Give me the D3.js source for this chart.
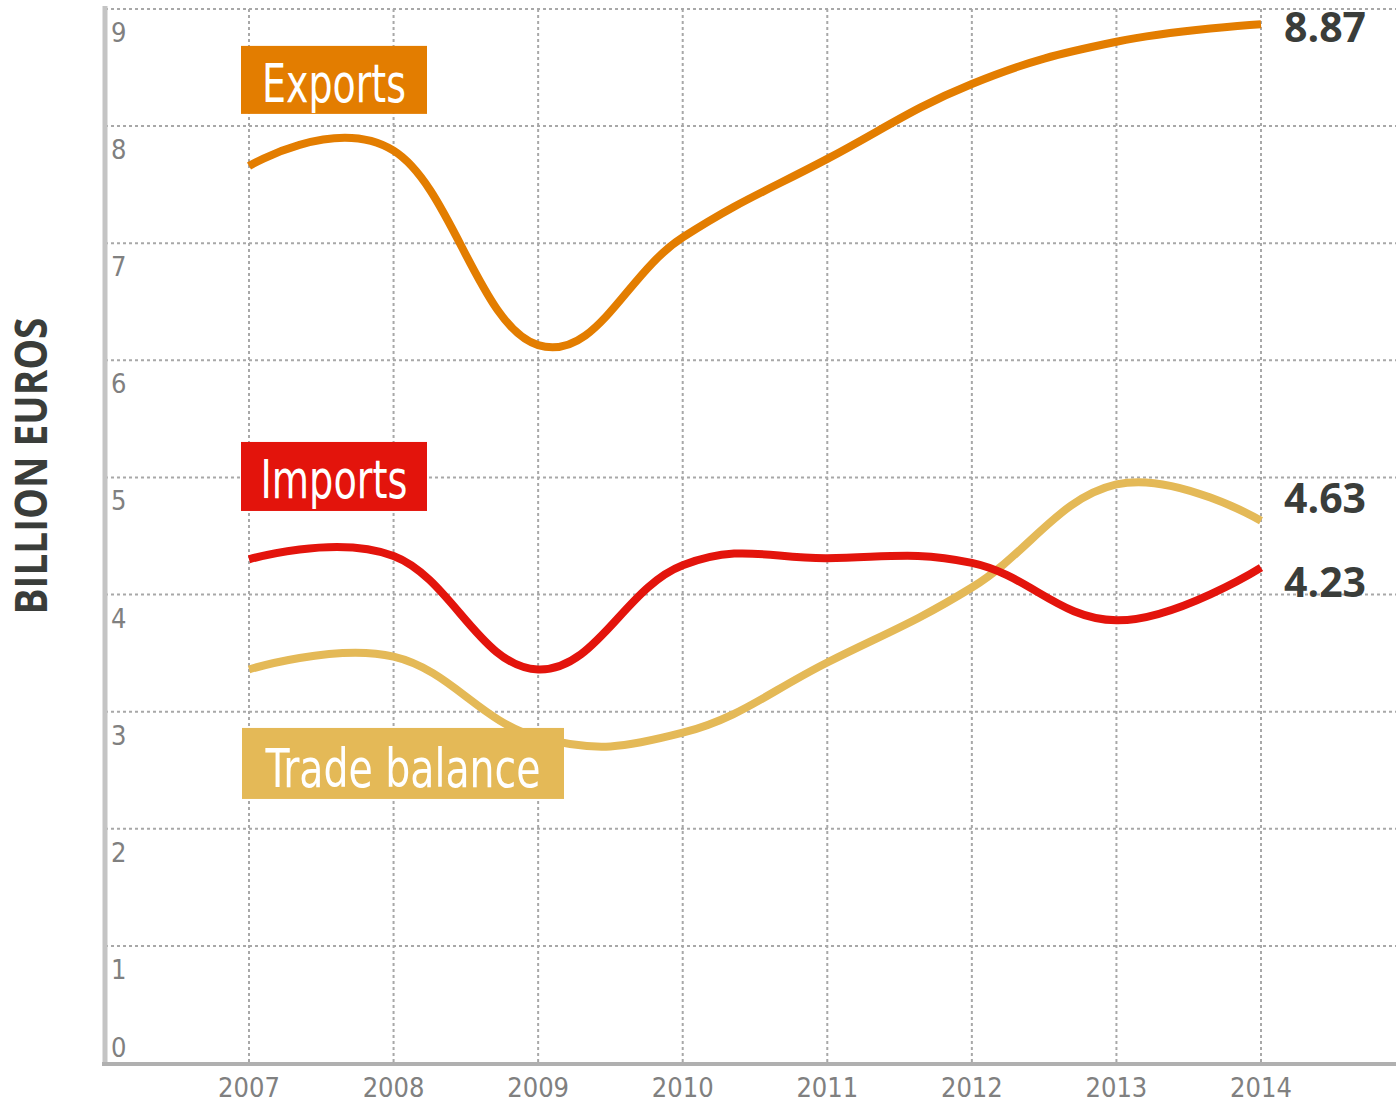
<!DOCTYPE html>
<html>
<head>
<meta charset="utf-8">
<script src="https://cdn.jsdelivr.net/npm/d3@7"></script>
<style>
  body { margin: 0; background: #fff; }
  svg { display: block; }
</style>
</head>
<body>
<div id="chart"></div>
<script>
// data
var years = [2007, 2008, 2009, 2010, 2011, 2012, 2013, 2014];
var exportsVals = [7.66, 7.79, 6.13, 7.05, 7.72, 8.36, 8.72, 8.87];
var importsVals = [4.30, 4.33, 3.36, 4.25, 4.31, 4.27, 3.78, 4.23];
var balanceVals = [3.36, 3.47, 2.78, 2.82, 3.42, 4.06, 4.94, 4.63];
var yTicks = [0, 1, 2, 3, 4, 5, 6, 7, 8, 9];
var seriesNames = ["Trade balance", "Imports", "Exports"];
var seriesColors = ["#e4b957", "#e3140c", "#e37d00"];

// label boxes (top of box given in axis units), end-value offsets
var labelLayout = {
    "Exports":       {bx: 241, top: 8.685, bw: 186, bh: 68, tw: 144, ty: 56, endDy: 18},
    "Imports":       {bx: 241, top: 5.303, bw: 186, bh: 69, tw: 147, ty: 56, endDy: 29},
    "Trade balance": {bx: 242, top: 2.861, bw: 322, bh: 71, tw: 275, ty: 59, endDy: -8}
};

var series = [balanceVals, importsVals, exportsVals].map(function(v, i) {
    return {name: seriesNames[i], values: v, color: seriesColors[i]};
});

var W = 1396, H = 1102;
var plotL = 105, plotR = 1396, plotT = 9, plotB = 1063;

var svg = d3.select("#chart").append("svg")
    .attr("width", W)
    .attr("height", H);

var x = d3.scalePoint().domain(years).range([249, 1261]);
var y = d3.scaleLinear().domain([0, 9]).range([plotB, plotT]);

// grid
svg.append("g").selectAll("line")
    .data(yTicks.slice(1))
    .enter().append("line")
        .attr("x1", plotL).attr("x2", plotR)
        .attr("y1", function(d) { return y(d); })
        .attr("y2", function(d) { return y(d); })
        .attr("stroke", "#a8a8a8")
        .attr("stroke-width", 2)
        .attr("stroke-dasharray", "3,3");

svg.append("g").selectAll("line")
    .data(years)
    .enter().append("line")
        .attr("x1", function(d) { return x(d); })
        .attr("x2", function(d) { return x(d); })
        .attr("y1", plotT).attr("y2", plotB)
        .attr("stroke", "#a8a8a8")
        .attr("stroke-width", 2)
        .attr("stroke-dasharray", "3,3");

// axis frame
svg.append("line")
    .attr("x1", plotL).attr("x2", plotL)
    .attr("y1", plotT - 3).attr("y2", plotB + 3)
    .attr("stroke", "#c4c4c4").attr("stroke-width", 5);
svg.append("line")
    .attr("x1", plotL - 3).attr("x2", plotR)
    .attr("y1", plotB + 1).attr("y2", plotB + 1)
    .attr("stroke", "#b0b0b0").attr("stroke-width", 4);

// tick labels
svg.append("g").selectAll("text")
    .data(yTicks)
    .enter().append("text")
        .attr("x", 111)
        .attr("y", function(d) { return d === 0 ? y(d) - 6 : y(d) + 33; })
        .attr("font-family", "DejaVu Sans Condensed, DejaVu Sans, sans-serif")
        .attr("font-size", 27)
        .attr("fill", "#808080")
        .text(function(d) { return d; });

svg.append("g").selectAll("text")
    .data(years)
    .enter().append("text")
        .attr("x", function(d) { return x(d); })
        .attr("y", 1097)
        .attr("text-anchor", "middle")
        .attr("font-family", "DejaVu Sans Condensed, DejaVu Sans, sans-serif")
        .attr("font-size", 27)
        .attr("fill", "#808080")
        .text(function(d) { return d; });

// y title
svg.append("text")
    .attr("transform", "translate(47,466)rotate(-90)")
    .attr("text-anchor", "middle")
    .attr("font-family", "Open Sans, sans-serif")
    .attr("font-weight", "bold")
    .attr("font-size", 44)
    .attr("textLength", 297)
    .attr("lengthAdjust", "spacingAndGlyphs")
    .attr("fill", "#3a3d3a")
    .text("BILLION EUROS");

// spline like the original tool draws it (handles 0.4 of the step, flat ends)
function spline(vals) {
    var pts = vals.map(function(v, i) { return [x(years[i]), y(v)]; });
    var n = pts.length, lc = [], rc = [];
    pts.forEach(function(p, i) {
        if (i === 0 || i === n - 1) { lc[i] = p; rc[i] = p; return; }
        var a = pts[i - 1], b = pts[i + 1];
        var lx = (1.5 * p[0] + a[0]) / 2.5, ly = (1.5 * p[1] + a[1]) / 2.5;
        var rx = (1.5 * p[0] + b[0]) / 2.5, ry = (1.5 * p[1] + b[1]) / 2.5;
        var corr = ((ry - ly) * (rx - p[0])) / (rx - lx) + p[1] - ry;
        lc[i] = [lx, ly + corr];
        rc[i] = [rx, ry + corr];
    });
    var path = d3.path();
    path.moveTo(pts[0][0], pts[0][1]);
    for (var i = 1; i < n; i++) {
        path.bezierCurveTo(rc[i - 1][0], rc[i - 1][1], lc[i][0], lc[i][1], pts[i][0], pts[i][1]);
    }
    return path.toString();
}

svg.append("g").selectAll("path")
    .data(series)
    .enter().append("path")
        .attr("d", function(s) { return spline(s.values); })
        .attr("fill", "none")
        .attr("stroke", function(s) { return s.color; })
        .attr("stroke-width", 8);

// label boxes
var boxes = svg.append("g").selectAll("g")
    .data(series)
    .enter().append("g")
        .attr("transform", function(s) {
            var L = labelLayout[s.name];
            return "translate(" + L.bx + "," + y(L.top) + ")";
        });

boxes.append("rect")
    .attr("width", function(s) { return labelLayout[s.name].bw; })
    .attr("height", function(s) { return labelLayout[s.name].bh; })
    .attr("fill", function(s) { return s.color; });

boxes.append("text")
    .attr("x", function(s) { return labelLayout[s.name].bw / 2; })
    .attr("y", function(s) { return labelLayout[s.name].ty; })
    .attr("text-anchor", "middle")
    .attr("font-family", "DejaVu Sans Condensed, sans-serif")
    .attr("font-size", 53)
    .attr("textLength", function(s) { return labelLayout[s.name].tw; })
    .attr("lengthAdjust", "spacingAndGlyphs")
    .attr("fill", "#fff")
    .text(function(s) { return s.name; });

// end values
svg.append("g").selectAll("text")
    .data(series)
    .enter().append("text")
        .attr("x", 1284)
        .attr("y", function(s) { return y(s.values[s.values.length - 1]) + labelLayout[s.name].endDy; })
        .attr("font-family", "Open Sans, sans-serif")
        .attr("font-weight", "bold")
        .attr("font-size", 41)
        .attr("fill", "#3a3d3a")
        .text(function(s) { return s.values[s.values.length - 1].toFixed(2); });
</script>
</body>
</html>
